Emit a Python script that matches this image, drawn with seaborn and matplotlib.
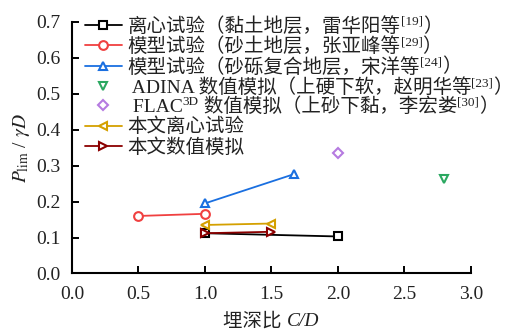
import matplotlib
matplotlib.use("Agg")
import matplotlib.pyplot as plt
import seaborn as sns
import pandas as pd
from matplotlib.offsetbox import TextArea, HPacker, AnchoredOffsetbox

sns.set_theme(style="ticks")
plt.rcParams["font.family"] = ["Liberation Serif", "Noto Sans CJK SC"]
plt.rcParams["mathtext.fontset"] = "stix"
plt.rcParams["axes.unicode_minus"] = False

# C/D and P_lim/γD for each data source
lei_x = [1.0, 2.0]
lei_y = [0.112, 0.103]
zhang_x = [0.5, 1.0]
zhang_y = [0.160, 0.166]
song_x = [1.0, 1.667]
song_y = [0.195, 0.276]
zhao_x = [2.8]
zhao_y = [0.264]
li_x = [2.0]
li_y = [0.336]
cent_x = [1.0, 1.5]
cent_y = [0.135, 0.139]
num_x = [1.0, 1.5]
num_y = [0.112, 0.116]

# Legend labels as (text, is_superscript) segments
labels = [
    [("离心试验（黏土地层，雷华阳等", False), ("[19]", True), ("）", False)],
    [("模型试验（砂土地层，张亚峰等", False), ("[29]", True), ("）", False)],
    [("模型试验（砂砾复合地层，宋洋等", False), ("[24]", True), ("）", False)],
    [(" ADINA 数值模拟（上硬下软，赵明华等", False), ("[23]", True), ("）", False)],
    [(" FLAC", False), ("3D", True), (" 数值模拟（上砂下黏，李宏娄", False),
     ("[30]", True), ("）", False)],
    [("本文离心试验", False)],
    [("本文数值模拟", False)],
]

series = [
    (lei_x, lei_y, "s", "#000000", "-"),
    (zhang_x, zhang_y, "o", "#f04040", "-"),
    (song_x, song_y, "^", "#1a6fe0", "-"),
    (zhao_x, zhao_y, "v", "#2aa860", "none"),
    (li_x, li_y, "D", "#b57ae0", "none"),
    (cent_x, cent_y, "<", "#d4a000", "-"),
    (num_x, num_y, ">", "#8b0000", "-"),
]

FS = 14
LEG_FS = 14
SUP_FS = 9.5
TXT_COL = "#222222"

fig = plt.figure(figsize=(5.12, 3.29), dpi=100)
ax = fig.add_axes([0.1406, 0.1687, 0.779, 0.765])

for (xs, ys, mk, col, ls), segs in zip(series, labels):
    df = pd.DataFrame({"x": xs, "y": ys})
    ms = 5 if mk == "D" else 6.3
    sns.lineplot(data=df, x="x", y="y", ax=ax, label=segs[0][0], marker=mk,
                 color=col, linestyle=ls, linewidth=1.3,
                 markersize=ms, markerfacecolor="white",
                 markeredgecolor=col, markeredgewidth=1.5)

ax.set_xlim(0, 3.0)
ax.set_ylim(0, 0.7)
ax.set_xticks([0, 0.5, 1.0, 1.5, 2.0, 2.5, 3.0])
ax.set_xticklabels(["0.0", "0.5", "1.0", "1.5", "2.0", "2.5", "3.0"])
ax.set_yticks([0, 0.1, 0.2, 0.3, 0.4, 0.5, 0.6, 0.7])
ax.set_yticklabels(["0.0", "0.1", "0.2", "0.3", "0.4", "0.5", "0.6", "0.7"])
ax.tick_params(direction="in", length=5, width=1.4, labelsize=FS,
               colors="black")
ax.tick_params(axis="y", pad=8.5)
ax.tick_params(axis="x", pad=9)
for lab in ax.get_xticklabels() + ax.get_yticklabels():
    lab.set_color(TXT_COL)
for s in ["top", "right"]:
    ax.spines[s].set_visible(False)
for s in ["left", "bottom"]:
    ax.spines[s].set_linewidth(1.5)
    ax.spines[s].set_color("black")

ax.set_xlabel("")
ax.set_ylabel("$P_{\\rm lim}$ / $\\gamma D$", fontsize=FS, labelpad=3,
              color=TXT_COL)

# x-axis title: Chinese text followed by italic C/D
xlab = HPacker(children=[
    TextArea("埋深比 ", textprops=dict(fontsize=FS, color=TXT_COL)),
    TextArea("C/D", textprops=dict(fontsize=FS, color=TXT_COL,
                                   style="italic")),
], align="baseline", pad=0, sep=0)
ax.add_artist(AnchoredOffsetbox(loc="upper center", child=xlab,
                                bbox_to_anchor=(0.5, -0.155),
                                bbox_transform=ax.transAxes,
                                frameon=False, pad=0, borderpad=0))

leg = ax.legend(loc="upper left", bbox_to_anchor=(0.013, 1.05), frameon=False,
                fontsize=LEG_FS, handlelength=1.9, handletextpad=0.3,
                labelspacing=0.08, borderaxespad=0)
for t in leg.get_texts():
    t.set_color(TXT_COL)

# Append superscript citation marks and trailing text after each legend entry
fig.canvas.draw()
renderer = fig.canvas.get_renderer()
inv = fig.transFigure.inverted()
for t, segs in zip(leg.get_texts(), labels):
    bb = t.get_window_extent(renderer)
    base = t.get_transform().transform(t.get_position())[1]
    x = bb.x1
    for txt, sup in segs[1:]:
        y = base + (7 if sup else 0)
        fx, fy = inv.transform((x, y))
        a = fig.text(fx, fy, txt, fontsize=SUP_FS if sup else LEG_FS,
                     color=TXT_COL, ha="left", va="baseline")
        x = a.get_window_extent(renderer).x1

fig.savefig("out.png", dpi=100)
